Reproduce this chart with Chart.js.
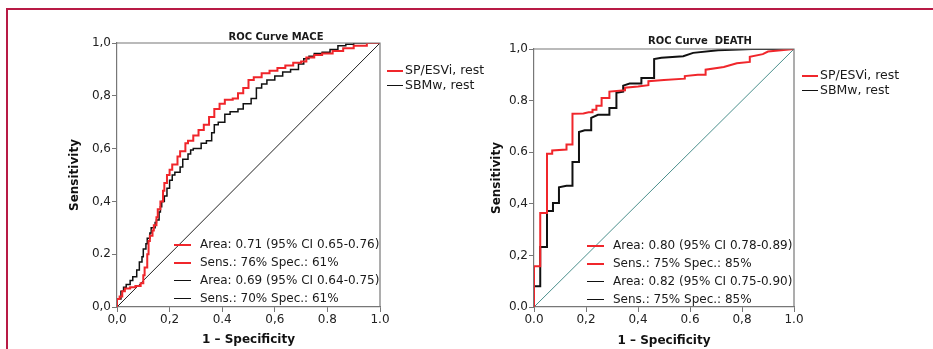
<!DOCTYPE html>
<html lang="en">
<head>
    <meta charset="UTF-8">
    <title>ROC Curves</title>
    <script src="https://cdn.jsdelivr.net/npm/chart.js"></script>
    <style>
        body { margin: 0; background: #fff; font-family: 'DejaVu Sans', sans-serif; color: #1a1a1a; overflow: hidden; }
        #page { position: relative; width: 933px; height: 349px; overflow: hidden; }
        canvas { position: absolute; top: 0; }
        .frame { position: absolute; left: 6px; top: 8px; width: 1000px; height: 400px; border-left: 2px solid #b81a45; border-top: 2px solid #b81a45; }
        .title { position: absolute; font-weight: bold; font-size: 10px; white-space: pre; transform: translate(-50%, -50%); }
        .lg { position: absolute; font-size: 12px; white-space: pre; line-height: 14px; transform: translateY(-50%); }
        .lg i { display: inline-block; width: 17px; vertical-align: middle; margin-right: 9px; }
        .top i { width: 16px; margin-right: 2px; }
        .top { font-size: 12.5px; }
        .red i { border-top: 2.5px solid #f0262b; }
        .blk i { border-top: 1.8px solid #111; }
    </style>
</head>
<body>
<div id="page">
    <canvas id="maceChart" style="left:0" width="470" height="349"></canvas>
    <canvas id="deathChart" style="left:470px" width="463" height="349"></canvas>
    <div class="frame"></div>

    <div class="title" style="left:276px; top:36px">ROC Curve MACE</div>
    <div class="title" style="left:700px; top:40px">ROC Curve  DEATH</div>

    <!-- MACE legends -->
    <div class="lg top red" style="left:387px; top:70px"><i></i>SP/ESVi, rest</div>
    <div class="lg top blk" style="left:387px; top:85px"><i></i>SBMw, rest</div>
    <div class="lg red" style="left:174px; top:244px"><i></i>Area: 0.71 (95% CI 0.65-0.76)</div>
    <div class="lg red" style="left:174px; top:262px"><i></i>Sens.: 76% Spec.: 61%</div>
    <div class="lg blk" style="left:174px; top:280px"><i></i>Area: 0.69 (95% CI 0.64-0.75)</div>
    <div class="lg blk" style="left:174px; top:298px"><i></i>Sens.: 70% Spec.: 61%</div>

    <!-- DEATH legends -->
    <div class="lg top red" style="left:802px; top:75px"><i></i>SP/ESVi, rest</div>
    <div class="lg top blk" style="left:802px; top:90px"><i></i>SBMw, rest</div>
    <div class="lg red" style="left:587px; top:245px"><i></i>Area: 0.80 (95% CI 0.78-0.89)</div>
    <div class="lg red" style="left:587px; top:263px"><i></i>Sens.: 75% Spec.: 85%</div>
    <div class="lg blk" style="left:587px; top:281px"><i></i>Area: 0.82 (95% CI 0.75-0.90)</div>
    <div class="lg blk" style="left:587px; top:299px"><i></i>Sens.: 75% Spec.: 85%</div>
</div>

<script>
    // MACE curves (1 - specificity, sensitivity)
    const maceRedX = [0, 0.01, 0.02, 0.03, 0.05, 0.07, 0.09, 0.10, 0.105, 0.115, 0.12, 0.125, 0.135, 0.14, 0.15, 0.155, 0.165, 0.175, 0.18, 0.19, 0.2, 0.21, 0.23, 0.24, 0.26, 0.27, 0.29, 0.31, 0.33, 0.35, 0.37, 0.39, 0.41, 0.44, 0.46, 0.48, 0.5, 0.52, 0.55, 0.58, 0.61, 0.64, 0.67, 0.7, 0.72, 0.75, 0.78, 0.82, 0.86, 0.9, 0.95, 1];
    const maceRedY = [0, 0.03, 0.04, 0.06, 0.07, 0.075, 0.08, 0.09, 0.12, 0.15, 0.20, 0.25, 0.27, 0.29, 0.31, 0.34, 0.37, 0.40, 0.44, 0.47, 0.5, 0.52, 0.54, 0.57, 0.59, 0.62, 0.63, 0.65, 0.67, 0.69, 0.72, 0.75, 0.77, 0.785, 0.79, 0.81, 0.83, 0.86, 0.87, 0.885, 0.895, 0.905, 0.915, 0.925, 0.93, 0.945, 0.955, 0.96, 0.97, 0.98, 0.99, 1];
    const maceBlackX = [0, 0.015, 0.025, 0.035, 0.05, 0.06, 0.075, 0.085, 0.095, 0.10, 0.11, 0.115, 0.125, 0.13, 0.145, 0.15, 0.16, 0.165, 0.17, 0.18, 0.19, 0.2, 0.21, 0.22, 0.24, 0.25, 0.27, 0.28, 0.29, 0.32, 0.34, 0.36, 0.37, 0.385, 0.41, 0.43, 0.46, 0.48, 0.51, 0.53, 0.55, 0.57, 0.6, 0.63, 0.66, 0.69, 0.71, 0.73, 0.75, 0.78, 0.81, 0.84, 0.87, 0.9, 0.95, 1];
    const maceBlackY = [0, 0.03, 0.06, 0.075, 0.085, 0.10, 0.115, 0.14, 0.17, 0.19, 0.22, 0.24, 0.26, 0.28, 0.30, 0.32, 0.33, 0.36, 0.38, 0.40, 0.42, 0.45, 0.48, 0.5, 0.51, 0.53, 0.56, 0.58, 0.595, 0.6, 0.62, 0.63, 0.66, 0.69, 0.70, 0.73, 0.74, 0.75, 0.77, 0.79, 0.83, 0.845, 0.86, 0.875, 0.89, 0.9, 0.92, 0.94, 0.95, 0.96, 0.965, 0.975, 0.99, 0.995, 1, 1];

    // DEATH curves (step corners)
    const deathRedX = [0, 0, 0.024, 0.024, 0.05, 0.05, 0.07, 0.07, 0.125, 0.125, 0.148, 0.148, 0.19, 0.21, 0.225, 0.225, 0.24, 0.24, 0.26, 0.26, 0.29, 0.29, 0.35, 0.35, 0.4, 0.44, 0.44, 0.5, 0.58, 0.58, 0.63, 0.66, 0.66, 0.73, 0.78, 0.83, 0.83, 0.88, 0.9, 0.95, 1];
    const deathRedY = [0, 0.158, 0.158, 0.364, 0.364, 0.594, 0.594, 0.607, 0.61, 0.63, 0.63, 0.749, 0.75, 0.755, 0.755, 0.765, 0.765, 0.78, 0.78, 0.81, 0.81, 0.835, 0.84, 0.85, 0.855, 0.86, 0.875, 0.88, 0.885, 0.895, 0.9, 0.9, 0.92, 0.93, 0.945, 0.95, 0.97, 0.98, 0.99, 0.995, 1];
    const deathBlackX = [0, 0, 0.024, 0.024, 0.05, 0.05, 0.073, 0.073, 0.096, 0.096, 0.125, 0.148, 0.148, 0.173, 0.173, 0.195, 0.22, 0.22, 0.246, 0.29, 0.29, 0.317, 0.317, 0.343, 0.343, 0.368, 0.413, 0.413, 0.462, 0.462, 0.49, 0.574, 0.612, 0.708, 0.84, 1];
    const deathBlackY = [0, 0.08, 0.08, 0.233, 0.233, 0.372, 0.372, 0.403, 0.403, 0.464, 0.47, 0.47, 0.562, 0.562, 0.678, 0.685, 0.685, 0.733, 0.745, 0.745, 0.771, 0.771, 0.83, 0.835, 0.858, 0.866, 0.866, 0.888, 0.888, 0.961, 0.966, 0.972, 0.985, 0.995, 1, 1];

    const maceXLabels = ['0,0', '0,2', '0.4', '0,6', '0.8', '1.0'];
    const maceYLabels = ['0,0', '0.2', '0,4', '0,6', '0,8', '1,0'];
    const deathXLabels = ['0.0', '0,2', '0,4', '0.6', '0,8', '1.0'];
    const deathYLabels = ['0.0', '0,2', '0,4', '0.6', '0.8', '1,0'];

    const toPoints = (xs, ys) => xs.map((x, i) => ({x: x, y: ys[i]}));

    // closes the plot box on top and right
    const boxPlugin = {
        id: 'box',
        afterDraw(chart) {
            const a = chart.chartArea, ctx = chart.ctx;
            ctx.save();
            ctx.strokeStyle = '#777';
            ctx.lineWidth = 1.2;
            ctx.beginPath();
            ctx.moveTo(a.left, a.top);
            ctx.lineTo(a.right, a.top);
            ctx.lineTo(a.right, a.bottom);
            ctx.stroke();
            ctx.restore();
        }
    };

    function makeChart(id, red, black, diagColor, xLabels, yLabels, pad, yWidth, xHeight, stepped, blackWidth) {
        const axis = (labels, title, fit) => ({
            type: 'linear', min: 0, max: 1,
            afterFit: fit,
            border: {color: '#777', width: 1.2},
            grid: {drawOnChartArea: false, drawTicks: true, tickLength: 5, color: '#777'},
            ticks: {
                stepSize: 0.2, padding: 1, color: '#222', autoSkip: false, maxRotation: 0,
                font: {family: 'DejaVu Sans', size: 12},
                callback: (v, i) => labels[i]
            },
            title: {display: true, text: title, color: '#111', padding: 0,
                font: {family: 'DejaVu Sans', size: 12, weight: 'bold'}}
        });
        return new Chart(document.getElementById(id), {
            type: 'scatter',
            data: {
                datasets: [
                    {data: red, borderColor: '#f0262b', borderWidth: 2, showLine: true, stepped: stepped, pointRadius: 0, order: 1},
                    {data: black, borderColor: '#111', borderWidth: blackWidth, showLine: true, stepped: stepped, pointRadius: 0, order: 2},
                    {data: [{x: 0, y: 0}, {x: 1, y: 1}], borderColor: diagColor, borderWidth: 1, showLine: true, pointRadius: 0, order: 3}
                ]
            },
            options: {
                responsive: false,
                animation: false,
                layout: {padding: pad},
                plugins: {legend: {display: false}, tooltip: {enabled: false}},
                scales: {
                    x: axis(xLabels, '1 \u2013 Specificity', s => { s.height = xHeight; }),
                    y: axis(yLabels, 'Sensitivity', s => { s.width = yWidth; })
                }
            },
            plugins: [boxPlugin]
        });
    }

    makeChart('maceChart', toPoints(maceRedX, maceRedY), toPoints(maceBlackX, maceBlackY), '#222',
        maceXLabels, maceYLabels, {left: 68, top: 43, right: 90, bottom: 2}, 49, 40, 'after', 1.5);
    makeChart('deathChart', toPoints(deathRedX, deathRedY), toPoints(deathBlackX, deathBlackY), '#4a8f8c',
        deathXLabels, deathYLabels, {left: 20, top: 49, right: 139, bottom: 1}, 44, 41, false, 2);
</script>
</body>
</html>
